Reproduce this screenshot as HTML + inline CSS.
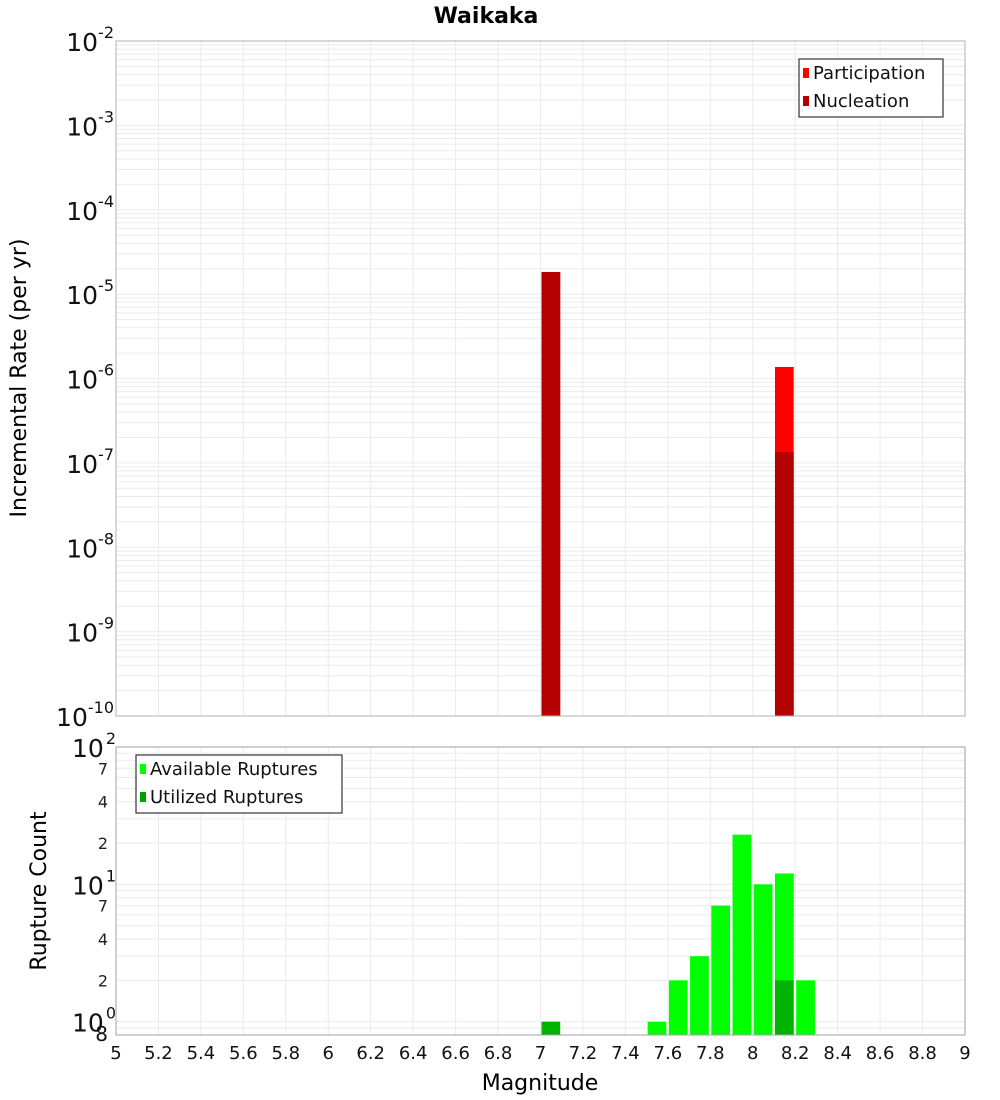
<!DOCTYPE html>
<html><head><meta charset="utf-8"><style>
body{margin:0;background:#fff;}
svg{display:block;font-family:"DejaVu Sans","Liberation Sans",sans-serif;}
</style></head><body>
<svg id="c" width="1000" height="1100" xmlns="http://www.w3.org/2000/svg"></svg>
<script>
const partMags=[7.0,8.1];
const partRates=[1.83e-5,1.37e-6];
const nuclMags=[7.0,8.1];
const nuclRates=[1.83e-5,1.35e-7];
const availMags=[7.5,7.6,7.7,7.8,7.9,8.0,8.1,8.2];
const availCounts=[1,2,3,7,23,10,12,2];
const utilMags=[7.0,8.1];
const utilCounts=[1,2];
const xTicks=[5,5.2,5.4,5.6,5.8,6,6.2,6.4,6.6,6.8,7,7.2,7.4,7.6,7.8,8,8.2,8.4,8.6,8.8,9];
const topExps=[-2,-3,-4,-5,-6,-7,-8,-9,-10];
const botMinorLabels=[7,4,2];

const svg=document.getElementById('c');
const NS='http://www.w3.org/2000/svg';
function el(t,a,p){const e=document.createElementNS(NS,t);for(const k in a)e.setAttribute(k,a[k]);(p||svg).appendChild(e);return e;}
const L=116,R=965;
const x=m=>L+(m-5)/4*(R-L);
const T1=41,B1=716;
const y1=v=>T1+(-2-Math.log10(v))/8*(B1-T1);
const T2=747,B2=1035;
const y2=v=>T2+(2-Math.log10(v))/Math.log10(125)*(B2-T2);

const g=el('g',{});
for(let e=-10;e<-2;e++)for(let k=1;k<10;k++){const yy=y1(k*Math.pow(10,e));el('line',{x1:L,x2:R,y1:yy,y2:yy,stroke:'#ebebeb','stroke-width':1},g);}
for(let e=-1;e<2;e++)for(let k=1;k<10;k++){const v=k*Math.pow(10,e);if(v<0.8)continue;const yy=y2(v);el('line',{x1:L,x2:R,y1:yy,y2:yy,stroke:'#ebebeb','stroke-width':1},g);}
xTicks.forEach(t=>{const xx=x(t);el('line',{x1:xx,x2:xx,y1:T1,y2:B1,stroke:'#ebebeb'},g);el('line',{x1:xx,x2:xx,y1:T2,y2:B2,stroke:'#ebebeb'},g);});

partMags.forEach((m,i)=>{const r=el('rect',{x:x(m)+1,y:y1(partRates[i]),width:x(m+0.1)-x(m)-2.5,height:B1-y1(partRates[i]),fill:'#ff0000'});
});
nuclMags.forEach((m,i)=>{const r=el('rect',{x:x(m)+1,y:y1(nuclRates[i]),width:x(m+0.1)-x(m)-2.5,height:B1-y1(nuclRates[i]),fill:'#b30000'});
});
availMags.forEach((m,i)=>{const r=el('rect',{x:x(m)+1,y:y2(availCounts[i]),width:x(m+0.1)-x(m)-2.5,height:B2-y2(availCounts[i]),fill:'#00ff00'});
});
utilMags.forEach((m,i)=>{const r=el('rect',{x:x(m)+1,y:y2(utilCounts[i]),width:x(m+0.1)-x(m)-2.5,height:B2-y2(utilCounts[i]),fill:'#00b300'});
});

el('rect',{x:L,y:T1,width:R-L,height:B1-T1,fill:'none',stroke:'#b0b0b0'});
el('rect',{x:L,y:T2,width:R-L,height:B2-T2,fill:'none',stroke:'#a0a0a0'});

topExps.forEach(e=>{const yy=y1(Math.pow(10,e));const t=el('text',{x:114,y:yy+10,'font-size':25,'text-anchor':'end',fill:'#111'});
t.innerHTML='10<tspan dy="-13" font-size="16">'+e+'</tspan>';});
[2,1,0].forEach(e=>{const yy=y2(Math.pow(10,e));const t=el('text',{x:72,y:yy+10,'font-size':25,fill:'#111'});
t.innerHTML='10<tspan dy="-13" font-size="16" dx="2">'+e+'</tspan>';});
[1,0].forEach(e=>botMinorLabels.forEach(k=>{const t=el('text',{x:108,y:y2(k*Math.pow(10,e))+6,'font-size':16,'text-anchor':'end',fill:'#222'});t.textContent=k;
}));
{const t=el('text',{x:108,y:y2(0.8)+6,'font-size':20,'text-anchor':'end',fill:'#111'});t.textContent='8';}

xTicks.forEach(v=>{const t=el('text',{x:x(v),y:1059,'font-size':18,'text-anchor':'middle',fill:'#111'});t.textContent=String(v);
});

let t;
t=el('text',{x:486,y:23,'font-size':22,'font-weight':'bold','text-anchor':'middle'});t.textContent='Waikaka';
t=el('text',{x:540,y:1090,'font-size':22,'text-anchor':'middle'});t.textContent='Magnitude';
t=el('text',{x:0,y:0,'font-size':22,'text-anchor':'middle',transform:'translate(26,378) rotate(-90)'});t.textContent='Incremental Rate (per yr)';
t=el('text',{x:0,y:0,'font-size':22,'text-anchor':'middle',transform:'translate(46,891) rotate(-90)'});t.textContent='Rupture Count';

function legend(name,bx,by,w,items){const lg=el('g',{});
el('rect',{x:bx,y:by,width:w,height:58,fill:'#fff',stroke:'#333','stroke-width':1.2},lg);
items.forEach((it,i)=>{el('rect',{x:bx+4,y:by+9+i*28,width:6,height:10,fill:it[1]},lg);
const tt=el('text',{x:bx+14,y:by+20+i*28,'font-size':18,fill:'#111'},lg);tt.textContent=it[0];});}
legend('legend-top',799,59,144,[['Participation','#ff0000'],['Nucleation','#b30000']]);
legend('legend-bottom',136,755,206,[['Available Ruptures','#00ff00'],['Utilized Ruptures','#00a000']]);
</script>
</body></html>
